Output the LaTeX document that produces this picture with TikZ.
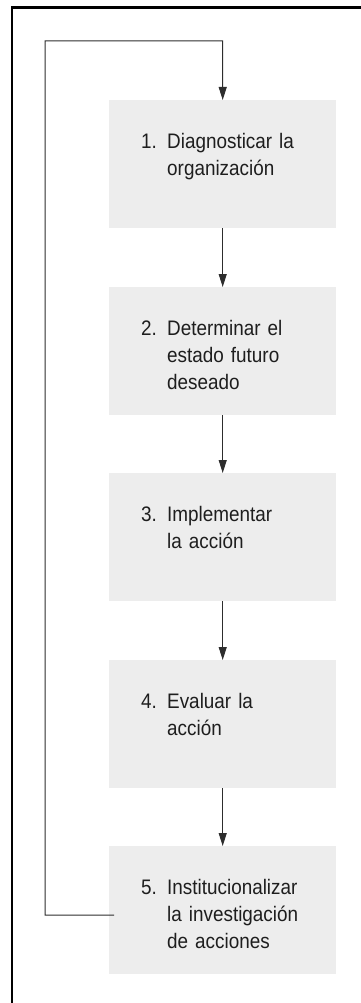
\documentclass[tikz,border=0pt]{standalone}
\usepackage{fontspec}
\setmainfont{Liberation Sans}[FakeStretch=0.9]
\usetikzlibrary{arrows.meta}
\definecolor{boxgray}{RGB}{237,237,237}
\definecolor{linegray}{RGB}{45,45,45}
\definecolor{textgray}{RGB}{30,30,30}
\tikzset{
  stepbox/.style={fill=boxgray, draw=none, minimum width=227pt, minimum height=128pt, inner sep=0pt, anchor=north west},
  steptext/.style={anchor=north west, inner sep=0pt, text width=185pt, font=\fontsize{21}{27}\selectfont, text=textgray},
  flow/.style={draw=linegray, line width=1pt, -{Triangle[width=8pt,length=13pt]}},
  frameline/.style={line width=2.5pt, black, line join=miter}
}
\newcommand{\nl}{\hfil\break}
\newcommand{\stepitem}[2]{\raggedright\hangindent=26pt\hangafter=1\noindent\makebox[26pt][l]{#1}#2\par}
\begin{document}
\begin{tikzpicture}[x=1pt,y=1pt]
\useasboundingbox (0,0) rectangle (360,-1003);
\draw[frameline] (12,-1004) -- (12,-7.5) -- (361,-7.5);

\node[stepbox] (b1) at (109,-100) {};
\node[stepbox] (b2) at (109,-287) {};
\node[stepbox] (b3) at (109,-473) {};
\node[stepbox] (b4) at (109,-660) {};
\node[stepbox] (b5) at (109,-846) {};

\node[steptext] (t1) at (141,-133) {\stepitem{1.}{Diagnosticar la\nl organización}};
\node[steptext] (t2) at (141,-320) {\stepitem{2.}{Determinar el\nl estado futuro\nl deseado}};
\node[steptext] (t3) at (141,-506) {\stepitem{3.}{Implementar\nl la acción}};
\node[steptext] (t4) at (141,-693) {\stepitem{4.}{Evaluar la\nl acción}};
\node[steptext] (t5) at (141,-879) {\stepitem{5.}{Institucionalizar\nl la investigación\nl de acciones}};

\draw[flow] (b1.south) -- (b2.north);
\draw[flow] (b2.south) -- (b3.north);
\draw[flow] (b3.south) -- (b4.north);
\draw[flow] (b4.south) -- (b5.north);

\coordinate (s5) at ([shift={(5pt,-5pt)}]b5.west);
\coordinate (lb) at (45,-915);
\coordinate (lt) at (45,-41);
\draw[flow] (s5) -- (lb) -- (lt) -| (b1.north);
\end{tikzpicture}
\end{document}
